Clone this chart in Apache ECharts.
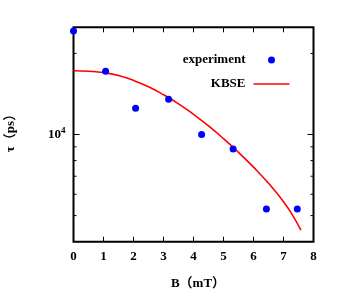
<!DOCTYPE html>
<html><head><meta charset="utf-8">
<script src="https://cdn.jsdelivr.net/npm/echarts@6/dist/echarts.min.js"></script>
<style>html,body{margin:0;padding:0;background:#fff}#c{width:354px;height:297px}</style>
</head><body><div id="c"></div>
<script>
// experimental data
var expB = [0, 1.07, 2.07, 3.17, 4.27, 5.32, 6.43, 7.46];
var expTau = [24200, 17170, 12510, 13510, 10000, 8835, 5290, 5290];
// KBSE fit curve
var curveB = [0, 0.5, 1, 1.5, 2, 2.5, 3, 3.5, 4, 4.5, 5, 5.5, 6, 6.5, 7, 7.3, 7.58];
var curveTau = [17250, 17170, 16980, 16550, 15880, 15030, 14050, 13000, 11880, 10760, 9656, 8586, 7563, 6588, 5632, 5021, 4414];
// axis ticks
var xTicks = [0, 1, 2, 3, 4, 5, 6, 7, 8];
var yMajorTicks = [10000];
var yMinorTicks = [5000, 6000, 7000, 8000, 9000, 20000];
var xMin = 0, xMax = 8, yMin = 4000, yMax = 25000;

var FONT = '"Liberation Serif", "Times New Roman", serif';
var NAMEFONT = '"Liberation Serif", "Noto Sans CJK JP", serif';
var chart = echarts.init(document.getElementById('c'), null, {renderer: 'canvas'});

var tickData = [];
yMajorTicks.forEach(function (v) { tickData.push([v, 6]); });
yMinorTicks.forEach(function (v) { tickData.push([v, 3]); });

chart.setOption({
  animation: false,
  backgroundColor: '#fff',
  grid: {left: 73.5, right: 40.5, top: 27.3, bottom: 55.3, show: true, borderColor: '#000', borderWidth: 2, backgroundColor: 'transparent', containLabel: false, outerBoundsMode: 'none'},
  legend: {
    data: ['experiment', {name: 'KBSE', icon: 'path://M0 0H36V1.6H0Z'}],
    orient: 'vertical', align: 'right',
    right: 64.5, top: 53.5, padding: 0,
    itemWidth: 36, itemHeight: 7, itemGap: 11,
    textStyle: {fontFamily: FONT, fontWeight: 'bold', fontSize: 13, color: '#000', padding: [0, 3, 0, 0]}
  },
  xAxis: [{
    type: 'value', min: xMin, max: xMax, interval: 1,
    name: 'B\uFF08mT\uFF09', nameLocation: 'middle', nameGap: 35,
    nameTextStyle: {fontFamily: NAMEFONT, fontWeight: 'bold', fontSize: 13, color: '#000', padding: [0, 0, 0, 9]},
    axisLine: {show: false},
    axisTick: {show: true, inside: true, length: 5, lineStyle: {color: '#000', width: 1}},
    axisLabel: {fontFamily: FONT, fontWeight: 'bold', fontSize: 13, color: '#000', margin: 8},
    splitLine: {show: false}
  }, {
    type: 'value', min: xMin, max: xMax, interval: 1, position: 'top',
    axisLine: {show: false},
    axisTick: {show: true, inside: true, length: 5, lineStyle: {color: '#000', width: 1}},
    axisLabel: {show: false}, splitLine: {show: false}
  }],
  yAxis: {
    type: 'log', logBase: 10, min: yMin, max: yMax,
    name: '\u03C4\uFF08ps\uFF09', nameLocation: 'middle', nameGap: 56, nameRotate: 90,
    nameTextStyle: {fontFamily: NAMEFONT, fontWeight: 'bold', fontSize: 13, color: '#000', padding: [0, 0, 0, 9]},
    axisLine: {show: false}, axisTick: {show: false}, splitLine: {show: false},
    axisLabel: {
      showMinLabel: false, showMaxLabel: false, margin: 8,
      formatter: function (v) { return Math.abs(v - 10000) < 1 ? '{a|10}{b|4}' : ''; },
      rich: {
        a: {fontFamily: FONT, fontWeight: 'bold', fontSize: 13, color: '#000'},
        b: {fontFamily: FONT, fontWeight: 'bold', fontSize: 9, color: '#000', verticalAlign: 'top', padding: [0, 0, 8, 0]}
      }
    }
  },
  series: [{
    name: 'KBSE', type: 'line', xAxisIndex: 0,
    data: curveB.map(function (b, i) { return [b, curveTau[i]]; }),
    showSymbol: false, symbol: 'none', smooth: 0.5,
    lineStyle: {color: '#ff0000', width: 1.6}, itemStyle: {color: '#ff0000'},
    z: 3
  }, {
    name: 'experiment', type: 'scatter', xAxisIndex: 0,
    data: expB.map(function (b, i) { return [b, expTau[i]]; }),
    symbol: 'circle', symbolSize: 7,
    itemStyle: {color: '#0000ff', opacity: 1}, z: 4
  }, {
    type: 'custom', xAxisIndex: 0,
    data: tickData, silent: true, clip: false, z: 5,
    renderItem: function (params, api) {
      var v = api.value(0), len = api.value(1);
      var pl = api.coord([xMin, v]);
      var pr = api.coord([xMax, v]);
      var st = {stroke: '#000', lineWidth: 1};
      return {type: 'group', children: [
        {type: 'line', shape: {x1: pl[0], y1: pl[1], x2: pl[0] + len, y2: pl[1]}, style: st},
        {type: 'line', shape: {x1: pr[0], y1: pr[1], x2: pr[0] - len, y2: pr[1]}, style: st}
      ]};
    }
  }]
});
</script></body></html>
